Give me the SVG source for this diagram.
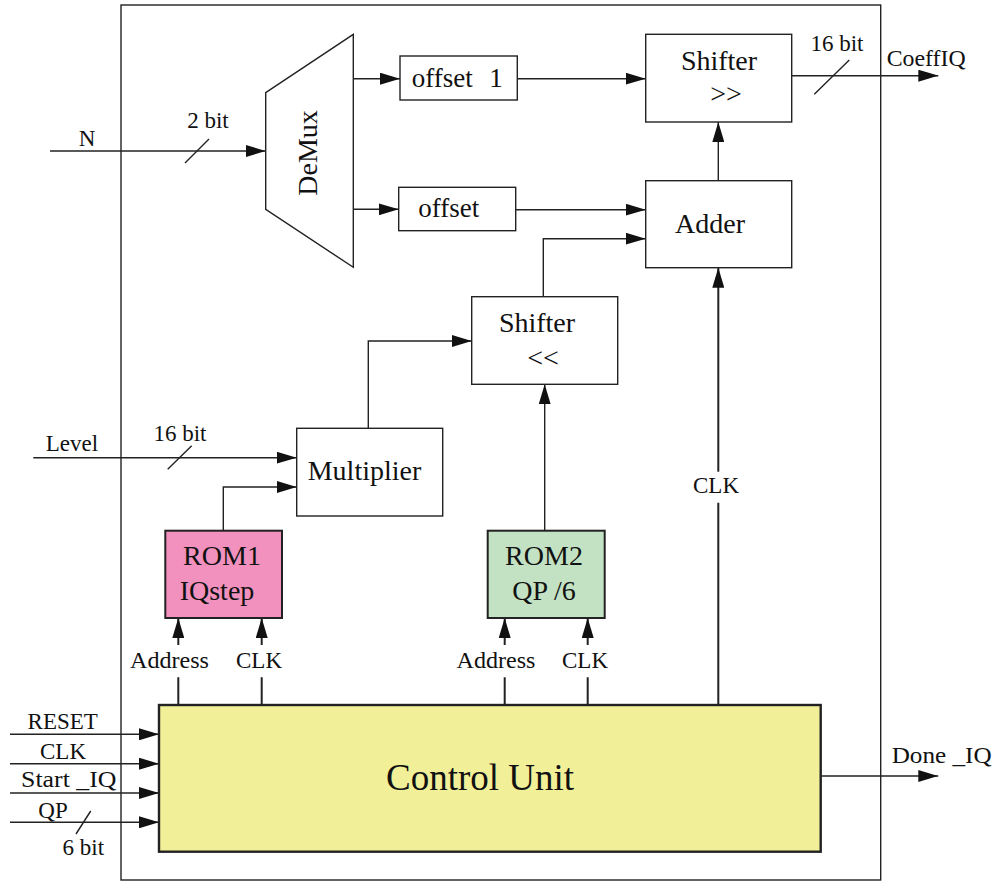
<svg xmlns="http://www.w3.org/2000/svg" width="995" height="881" viewBox="0 0 995 881">
<style>
.box{fill:#fff;stroke:#222;stroke-width:1.4}
.ln{fill:none;stroke:#222;stroke-width:1.4}
.thk{fill:none;stroke:#222;stroke-width:2}
.arr{marker-end:url(#ah)}
text{font-family:"Liberation Serif","Times New Roman",serif;fill:#111}
.t28{font-size:28px}
.t22{font-size:23px}
.mid{text-anchor:middle}
</style>
<defs>
<marker id="ah" markerUnits="userSpaceOnUse" markerWidth="20" markerHeight="12" refX="20" refY="6" orient="auto">
<path d="M0,0 L20,6 L0,12 z" fill="#111"/>
</marker>
</defs>
<rect x="0" y="0" width="995" height="881" fill="#fff"/>
<rect id="frame" x="121" y="5" width="759.7" height="875" fill="none" stroke="#222" stroke-width="1.4"/>

<g id="connectors">
<path class="ln arr" d="M50,151 H265.7"/>
<path class="ln arr" d="M353.3,78.7 H400"/>
<path class="ln arr" d="M353.3,209.3 H398.7"/>
<path class="ln arr" d="M517.3,78.7 H645.7"/>
<path class="ln arr" d="M515.7,209.7 H645.7"/>
<path class="ln arr" d="M543.3,296.7 V238.7 H645.7"/>
<path class="ln arr" d="M718.3,180.7 V122"/>
<path class="ln arr" d="M791.7,75.7 H938.3"/>
<path class="ln arr" d="M33.3,457.7 H296.7"/>
<path class="ln arr" d="M223.3,530.7 V487 H296.7"/>
<path class="ln arr" d="M368.3,428.3 V341 H471.7"/>
<path class="ln arr" d="M544.7,530.7 V384.3"/>
<path class="thk" d="M178.3,705 V677.3 M261.7,705 V677.3 M504.7,705 V677.3 M587.7,705 V677.3 M718.3,705 V502.7"/>
<path class="thk arr" d="M178.3,645 V618"/>
<path class="thk arr" d="M261.7,645 V618"/>
<path class="thk arr" d="M504.7,645 V618"/>
<path class="thk arr" d="M587.7,645 V618"/>
<path class="thk arr" d="M718.3,471.7 V267.7"/>
<path class="ln arr" d="M10,734.3 H159"/>
<path class="ln arr" d="M10,763.7 H159"/>
<path class="ln arr" d="M10,793 H159"/>
<path class="ln arr" d="M10,822.3 H159"/>
<path class="ln arr" d="M820.7,776 H938.3"/>
<path class="ln" d="M185,163 L209,139 M814.3,94.3 L849.3,60 M167.7,469.3 L191.7,445.7 M76,834 L90.7,811"/>
</g>

<g id="labels">
<text class="t22 mid" x="87" y="146">N</text>
<text class="t22 mid" x="208" y="128">2 bit</text>
<text class="t22 mid" x="837" y="51">16 bit</text>
<text class="t22" x="886.7" y="66" textLength="79" lengthAdjust="spacingAndGlyphs">CoeffIQ</text>
<text class="t22 mid" x="72" y="450.7">Level</text>
<text class="t22 mid" x="180" y="441">16 bit</text>
<text class="t22" x="130" y="668.3" textLength="79" lengthAdjust="spacingAndGlyphs">Address</text>
<text class="t22 mid" x="259" y="668.3">CLK</text>
<text class="t22" x="456.5" y="668.3" textLength="79" lengthAdjust="spacingAndGlyphs">Address</text>
<text class="t22 mid" x="585" y="668.3">CLK</text>
<text class="t22 mid" x="716" y="493.3">CLK</text>
<text class="t22 mid" x="62.7" y="729.3">RESET</text>
<text class="t22 mid" x="63" y="759.3">CLK</text>
<text class="t22" x="21" y="786.7" textLength="95.5" lengthAdjust="spacingAndGlyphs">Start _IQ</text>
<text class="t22 mid" x="53" y="817.7">QP</text>
<text class="t22 mid" x="83.3" y="855">6 bit</text>
<text class="t22" x="891.7" y="762.7" textLength="100" lengthAdjust="spacingAndGlyphs">Done _IQ</text>
</g>

<g id="demux">
<path d="M265.7,92.7 L353.3,34.3 L353.3,267.3 L265.7,209.3 Z" class="box"/>
<text class="mid" font-size="28" transform="translate(317,153) rotate(-90)">DeMux</text>
</g>
<g id="offset1">
<rect class="box" x="400" y="56" width="117.3" height="44"/>
<text font-size="27" x="411.7" y="86.7">offset</text>
<text font-size="27" class="mid" x="496" y="86.7">1</text>
</g>
<g id="offset">
<rect class="box" x="398.7" y="187.3" width="117" height="43.4"/>
<text font-size="27" x="418.3" y="217.3">offset</text>
</g>
<g id="shifter-right">
<rect class="box" x="645.7" y="34.3" width="146" height="87.7"/>
<text class="t28 mid" x="719" y="70">Shifter</text>
<text class="t28 mid" x="726" y="102.7">&gt;&gt;</text>
</g>
<g id="adder">
<rect class="box" x="645.7" y="180.7" width="146" height="87"/>
<text class="t28 mid" x="710" y="232.7">Adder</text>
</g>
<g id="shifter-left">
<rect class="box" x="471.7" y="296.7" width="146" height="87.6"/>
<text class="t28 mid" x="537" y="331.7">Shifter</text>
<text class="t28 mid" x="543" y="367">&lt;&lt;</text>
</g>
<g id="multiplier">
<rect class="box" x="296.7" y="428.3" width="146" height="87.7"/>
<text class="t28 mid" x="364.5" y="480">Multiplier</text>
</g>
<g id="rom1">
<rect class="box" x="165.3" y="530.7" width="116.7" height="87.3" style="fill:#F291BE;stroke-width:2"/>
<text class="t28 mid" x="222" y="565">ROM1</text>
<text class="t28 mid" x="217" y="600">IQstep</text>
</g>
<g id="rom2">
<rect class="box" x="487.7" y="530.7" width="117" height="87.3" style="fill:#C3E2C3;stroke-width:2"/>
<text class="t28 mid" x="544" y="565">ROM2</text>
<text class="t28 mid" x="544" y="600">QP /6</text>
</g>
<g id="control-unit">
<rect class="box" x="159" y="705" width="661.7" height="146.7" style="fill:#F1EF98;stroke-width:2.4"/>
<text class="mid" font-size="37" x="480" y="790">Control Unit</text>
</g>
</svg>
